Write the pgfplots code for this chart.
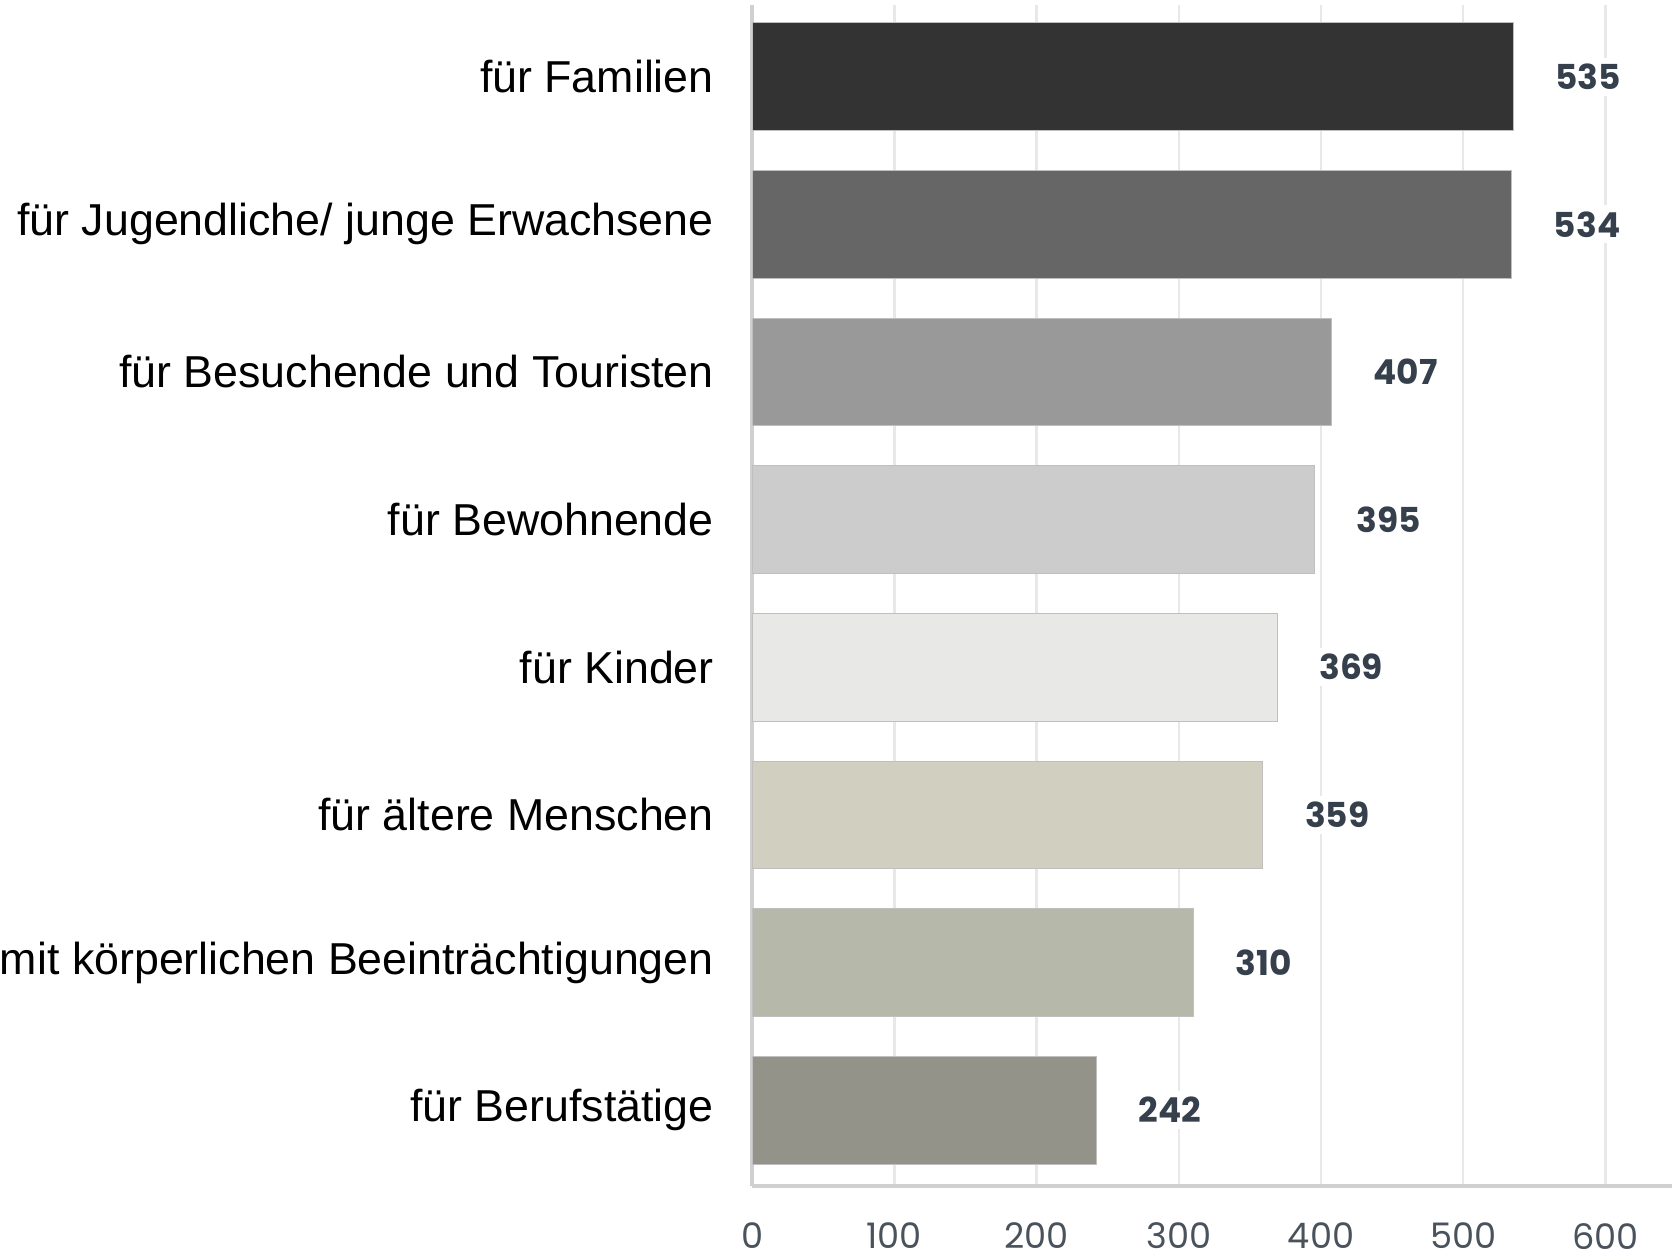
\documentclass[border=0pt]{standalone}
\usepackage{pgfplots}
\pgfplotsset{compat=1.18}
\usepackage{fontspec}
\setmainfont{Liberation Sans}
\newfontfamily\numfont{Poppins}
\definecolor{cA}{HTML}{333333}
\definecolor{cB}{HTML}{666666}
\definecolor{cC}{HTML}{999999}
\definecolor{cD}{HTML}{CCCCCC}
\definecolor{cE}{HTML}{E8E8E6}
\definecolor{cF}{HTML}{D1CFC0}
\definecolor{cG}{HTML}{B6B8AA}
\definecolor{cH}{HTML}{93938A}
\definecolor{txt}{HTML}{36404C}
\definecolor{tick}{HTML}{4A525C}
\definecolor{gridc}{HTML}{E8E8E8}
\definecolor{axc}{HTML}{D0D0D0}
\begin{document}
\begin{tikzpicture}
\begin{axis}[
  scale only axis,
  width=230.4pt, height=295.7pt,
  /pgf/number format/assume math mode=true,
  xbar, bar width=0.73, bar shift=0pt,
  xmin=0, xmax=647,
  ymin=-0.487, ymax=7.513,
  y dir=reverse,
  ytick={0,1,2,3,4,5,6,7},
  yticklabels={für Familien, für Jugendliche/ junge Erwachsene, für Besuchende und Touristen, für Bewohnende, für Kinder, für ältere Menschen, mit körperlichen Beeinträchtigungen, für Berufstätige},
  yticklabel style={font=\fontsize{11.2}{13}\selectfont, inner sep=0pt, xshift=-9.4pt},
  xtick={0,100,200,300,400,500,600},
  xticklabel style={font=\numfont\fontsize{8.8}{10}\selectfont, text=tick, inner sep=0pt, yshift=-9.1pt},
  major tick length=0pt,
  xmajorgrids, grid style={gridc, line width=0.6pt},
  axis x line*=bottom, axis y line*=left,
  axis line style={axc, line width=0.8pt},
  x axis line style={-},
  y axis line style={-},
  nodes near coords,
  nodes near coords style={font=\numfont\bfseries\fontsize{8.6}{10}\selectfont, text=txt, anchor=west, xshift=9pt, fill=white, inner sep=1.5pt},
  every axis plot/.append style={draw=black!25, line width=0.2pt},
]
\addplot[fill=cA] coordinates {(535,0)};
\addplot[fill=cB] coordinates {(534,1)};
\addplot[fill=cC] coordinates {(407,2)};
\addplot[fill=cD] coordinates {(395,3)};
\addplot[fill=cE] coordinates {(369,4)};
\addplot[fill=cF] coordinates {(359,5)};
\addplot[fill=cG] coordinates {(310,6)};
\addplot[fill=cH] coordinates {(242,7)};
\end{axis}
\path (current bounding box.north) ++(0,0.8pt);
\path (current bounding box.south) ++(0,-2.4pt);
\end{tikzpicture}
\end{document}
